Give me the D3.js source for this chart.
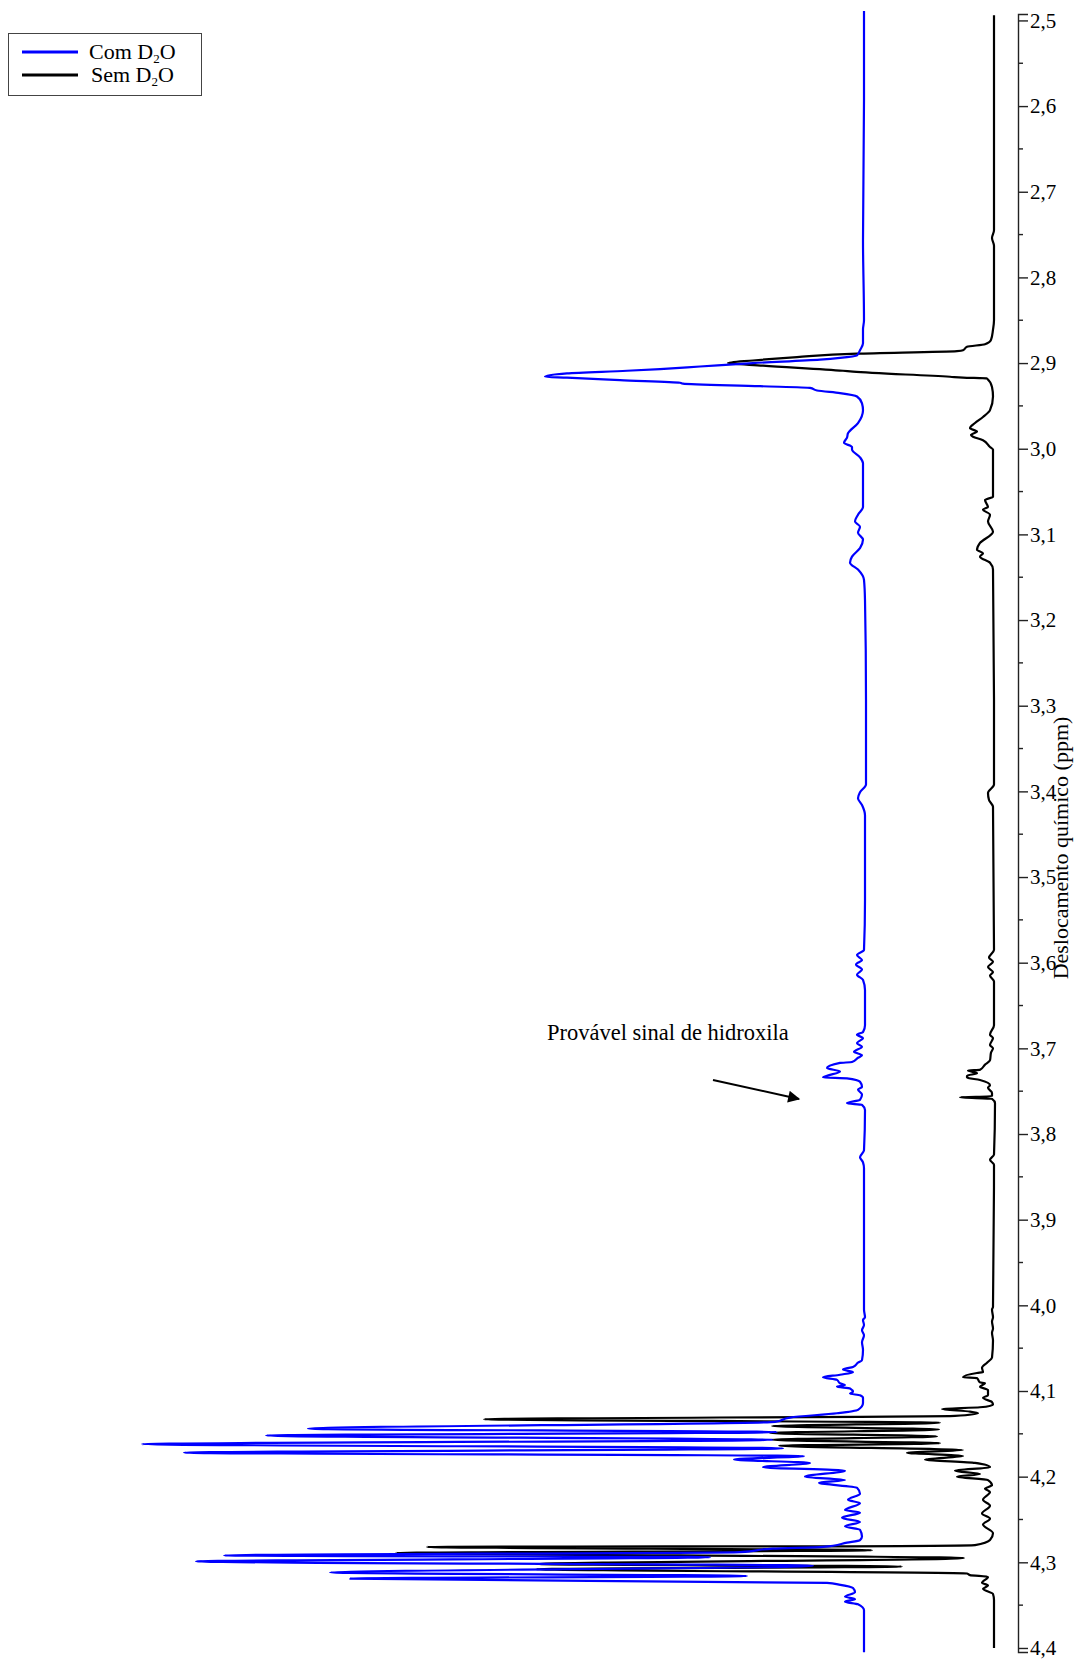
<!DOCTYPE html>
<html>
<head>
<meta charset="utf-8">
<script src="https://cdn.jsdelivr.net/npm/d3@7"></script>
<style>
  html, body { margin: 0; padding: 0; background: #fff; }
  svg { display: block; }
  text { font-family: "Liberation Serif", "Times New Roman", serif; fill: #000; }
</style>
</head>
<body>
<svg id="chart" width="1076" height="1660"></svg>
<script>
// 1H NMR spectrum (2.5 - 4.4 ppm), with and without D2O exchange.
// Chemical shift (ppm) runs down the vertical axis, intensity grows to the left.

const seriesNames = ["Com D\u2082O", "Sem D\u2082O"];

// Spectrum recorded with D2O
const comPpm = [
  2.489, 2.593, 2.756, 2.850, 2.861, 2.877, 2.885, 2.891, 2.894, 2.896,
  2.900, 2.904, 2.907, 2.909, 2.912, 2.916, 2.917, 2.920, 2.923, 2.924,
  2.927, 2.929, 2.932, 2.935, 2.939, 2.947, 2.955, 2.970, 2.982, 2.987,
  2.993, 2.998, 3.001, 3.010, 3.017, 3.068, 3.077, 3.085, 3.091, 3.098,
  3.106, 3.116, 3.126, 3.133, 3.141, 3.153, 3.177, 3.293, 3.392, 3.401,
  3.408, 3.416, 3.428, 3.527, 3.585, 3.591, 3.597, 3.602, 3.608, 3.614,
  3.620, 3.632, 3.673, 3.681, 3.684, 3.688, 3.694, 3.698, 3.704, 3.708,
  3.711, 3.716, 3.717, 3.723, 3.727, 3.732, 3.734, 3.735, 3.739, 3.745,
  3.748, 3.754, 3.760, 3.764, 3.766, 3.772, 3.819, 3.827, 3.833, 3.840,
  4.005, 4.014, 4.017, 4.023, 4.029, 4.035, 4.043, 4.052, 4.064, 4.067,
  4.072, 4.074, 4.075, 4.078, 4.081, 4.084, 4.087, 4.091, 4.093, 4.095,
  4.097, 4.101, 4.103, 4.105, 4.108, 4.114, 4.122, 4.126, 4.131, 4.136,
  4.144, 4.148, 4.152, 4.157, 4.162, 4.167, 4.172, 4.176, 4.180, 4.184,
  4.189, 4.193, 4.200, 4.204, 4.207, 4.213, 4.220, 4.227, 4.231, 4.239,
  4.242, 4.248, 4.253, 4.258, 4.262, 4.270, 4.274, 4.277, 4.282, 4.284,
  4.288, 4.292, 4.294, 4.299, 4.304, 4.312, 4.316, 4.319, 4.324, 4.326,
  4.330, 4.335, 4.340, 4.343, 4.346, 4.349, 4.356, 4.405
];
const comInt = [
  0, 0, 1, 0, 1, 1, 4, 7, 24, 44,
  111, 164, 204, 237, 297, 319, 297, 244, 184, 181,
  104, 54, 47, 24, 7, 2, 1, 6, 16, 17,
  20, 12, 12, 4, 1, 1, 6, 9, 4, 6,
  1, 4, 12, 14, 6, 0, -1, -2, -2, 4,
  6, 2, -1, -1, 0, 7, 2, 8, 2, 7,
  1, -1, -1, 1, 7, 1, 7, 2, 10, 2,
  6, 12, 24, 37, 24, 37, 41, 17, 4, 2,
  6, 2, 4, 17, 2, -1, 0, 4, 1, 0,
  0, -1, 1, 0, 2, 0, 2, 1, 2, 6,
  11, 19, 21, 11, 24, 41, 27, 24, 19, 27,
  14, 11, 14, 4, 1, 1, 6, 27, 74, 89,
  556, 87, 598, 91, 722, 81, 680, 60, 130, 54,
  101, 19, 59, 19, 45, 7, 4, 16, 4, 19,
  4, 22, 4, 19, 4, 2, 4, 17, 41, 91,
  124, 640, 154, 668, 51, 534, 117, 514, 37, 25,
  11, 9, 19, 9, 19, 6, 0, 0
];

// Spectrum recorded without D2O
const semPpm = [
  2.494, 2.593, 2.745, 2.754, 2.763, 2.850, 2.861, 2.873, 2.878, 2.881,
  2.885, 2.886, 2.889, 2.893, 2.897, 2.900, 2.903, 2.909, 2.910, 2.916,
  2.917, 2.918, 2.928, 2.939, 2.955, 2.963, 2.970, 2.976, 2.980, 2.984,
  2.986, 2.990, 2.998, 3.001, 3.056, 3.060, 3.068, 3.071, 3.077, 3.085,
  3.097, 3.110, 3.118, 3.122, 3.126, 3.133, 3.141, 3.293, 3.392, 3.402,
  3.410, 3.418, 3.585, 3.594, 3.599, 3.605, 3.611, 3.615, 3.622, 3.673,
  3.684, 3.688, 3.696, 3.700, 3.705, 3.714, 3.719, 3.725, 3.726, 3.729,
  3.732, 3.734, 3.737, 3.743, 3.746, 3.752, 3.756, 3.757, 3.759, 3.764,
  3.824, 3.830, 3.836, 4.002, 4.005, 4.014, 4.019, 4.027, 4.032, 4.041,
  4.061, 4.067, 4.073, 4.078, 4.079, 4.084, 4.085, 4.090, 4.091, 4.095,
  4.099, 4.105, 4.108, 4.113, 4.116, 4.119, 4.121, 4.124, 4.126, 4.129,
  4.133, 4.137, 4.141, 4.145, 4.149, 4.153, 4.157, 4.161, 4.164, 4.169,
  4.172, 4.176, 4.180, 4.184, 4.189, 4.193, 4.197, 4.200, 4.204, 4.210,
  4.214, 4.218, 4.227, 4.234, 4.243, 4.249, 4.256, 4.266, 4.274, 4.280,
  4.281, 4.282, 4.286, 4.289, 4.295, 4.302, 4.305, 4.308, 4.313, 4.315,
  4.317, 4.324, 4.327, 4.331, 4.337, 4.344, 4.400
];
const semInt = [
  0, 0, 0, 2, 0, 0, 1, 3, 9, 27,
  31, 37, 137, 197, 241, 266, 231, 151, 141, 44,
  31, 7, 2, 1, 4, 11, 19, 24, 17, 23,
  21, 11, 4, 1, 1, 9, 6, 11, 4, 6,
  1, 14, 17, 11, 14, 4, 1, 0, 0, 6,
  5, 1, 0, 5, 1, 6, 1, 4, 0, 0,
  4, 1, 4, 1, 3, 4, 9, 14, 26, 17,
  27, 27, 14, 4, 6, 2, 2, 34, 2, -1,
  0, 4, 0, 1, 2, 1, 2, 1, 2, 1,
  2, 7, 12, 11, 17, 31, 17, 14, 9, 14,
  6, 6, 11, 2, 1, 14, 52, 24, 16, 39,
  510, 54, 222, 55, 224, 57, 222, 54, 215, 31,
  87, 31, 69, 19, 4, 39, 14, 37, 6, 2,
  9, 4, 11, 4, 12, 4, 11, 1, 4, 19,
  94, 567, 122, 598, 30, 458, 92, 458, 27, 24,
  6, 12, 6, 11, 1, 0, 0
];

// Axis ticks (ppm) and their printed labels (decimal comma)
const tickValues = [2.5, 2.6, 2.7, 2.8, 2.9, 3.0, 3.1, 3.2, 3.3, 3.4, 3.5, 3.6, 3.7, 3.8, 3.9, 4.0, 4.1, 4.2, 4.3, 4.4];
const tickLabels = ["2,5", "2,6", "2,7", "2,8", "2,9", "3,0", "3,1", "3,2", "3,3", "3,4", "3,5", "3,6", "3,7", "3,8", "3,9", "4,0", "4,1", "4,2", "4,3", "4,4"];
const minorTickValues = [2.55, 2.65, 2.75, 2.85, 2.95, 3.05, 3.15, 3.25, 3.35, 3.45, 3.55, 3.65, 3.75, 3.85, 3.95, 4.05, 4.15, 4.25, 4.35];

const axisTitle = "Deslocamento químico (ppm)";
const annotationText = "Provável sinal de hidroxila";

// ---------------------------------------------------------------------------

const svg = d3.select("#chart");

const y = d3.scaleLinear().domain([2.4925, 4.4047]).range([14, 1652]);
const x = d3.scaleLinear().domain([0, 1000]).range([994, -6]);
const comOffset = 130; // horizontal stacking offset of the D2O trace

const toPoints = (ppm, vals, off) => ppm.map((p, i) => ({ p, v: vals[i] + off }));

const line = d3.line()
  .y(d => y(d.p))
  .x(d => x(d.v))
  .curve(d3.curveMonotoneY);

// Sem D2O first, Com D2O drawn over it
svg.append("path")
  .datum(toPoints(semPpm, semInt, 0))
  .attr("fill", "none")
  .attr("stroke", "#000")
  .attr("stroke-width", 2.2)
  .attr("stroke-linejoin", "round")
  .attr("d", line);

svg.append("path")
  .datum(toPoints(comPpm, comInt, comOffset))
  .attr("fill", "none")
  .attr("stroke", "#0000ff")
  .attr("stroke-width", 2.2)
  .attr("stroke-linejoin", "round")
  .attr("d", line);

// Chemical-shift axis on the right
const axisX = 1018;
const axisG = svg.append("g").attr("transform", `translate(${axisX},0)`);

axisG.call(
  d3.axisRight(y)
    .tickValues(tickValues)
    .tickFormat((d, i) => tickLabels[i])
    .tickSize(10)
    .tickPadding(2)
);
axisG.select(".domain").attr("stroke", "#222").attr("stroke-width", 1.4);
axisG.selectAll(".tick line").attr("stroke", "#222").attr("stroke-width", 1.4);
axisG.selectAll(".tick text")
  .style("font-family", '"Liberation Serif", serif')
  .style("font-size", "21px")
  .attr("fill", "#000");

axisG.selectAll(".minor")
  .data(minorTickValues)
  .join("line")
  .attr("class", "minor")
  .attr("x1", 0).attr("x2", 5)
  .attr("y1", d => y(d)).attr("y2", d => y(d))
  .attr("stroke", "#222").attr("stroke-width", 1.4);

svg.append("text")
  .attr("transform", `translate(1068,848) rotate(-90)`)
  .attr("text-anchor", "middle")
  .style("font-size", "22px")
  .text(axisTitle);

// Legend
const legend = svg.append("g");
legend.append("rect")
  .attr("x", 8.5).attr("y", 33.5).attr("width", 193).attr("height", 62)
  .attr("fill", "#fff").attr("stroke", "#444").attr("stroke-width", 1);

const legendColors = ["#0000ff", "#000"];
seriesNames.forEach((name, i) => {
  const ly = 52 + i * 23;
  legend.append("line")
    .attr("x1", 22).attr("x2", 78).attr("y1", ly).attr("y2", ly)
    .attr("stroke", legendColors[i]).attr("stroke-width", 3.2);
  const t = legend.append("text")
    .attr("x", i === 0 ? 89 : 91).attr("y", ly + 7)
    .style("font-size", "22px");
  const parts = name.split("\u2082");
  t.append("tspan").text(parts[0]);
  t.append("tspan").text("2").style("font-size", "13px").attr("dy", 4);
  t.append("tspan").text(parts[1]).attr("dy", -4);
});

// Annotation with arrow
const defs = svg.append("defs");
defs.append("marker")
  .attr("id", "arrowHead")
  .attr("viewBox", "0 0 10 10")
  .attr("refX", 9).attr("refY", 5)
  .attr("markerWidth", 7).attr("markerHeight", 6)
  .attr("markerUnits", "strokeWidth")
  .attr("orient", "auto")
  .append("path").attr("d", "M0,0 L10,5 L0,10 z").attr("fill", "#000");

svg.append("text")
  .attr("x", 547).attr("y", 1040)
  .style("font-size", "22.5px")
  .text(annotationText);

svg.append("line")
  .attr("x1", 713).attr("y1", 1080)
  .attr("x2", 799).attr("y2", 1099)
  .attr("stroke", "#000").attr("stroke-width", 2)
  .attr("marker-end", "url(#arrowHead)");
</script>
</body>
</html>
